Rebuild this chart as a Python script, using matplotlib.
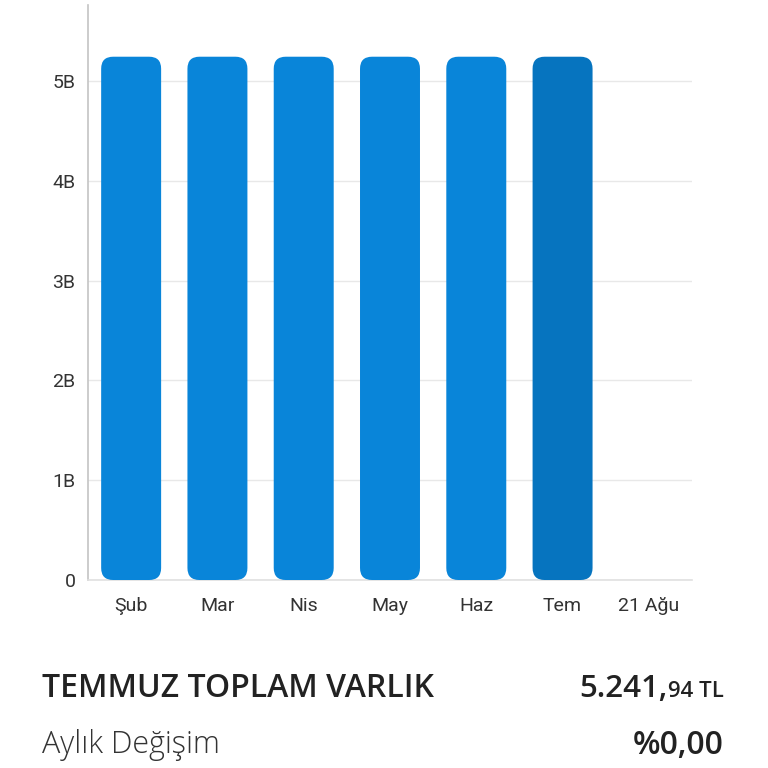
import matplotlib
matplotlib.use("Agg")
import matplotlib.pyplot as plt
from matplotlib.patches import FancyBboxPatch
import numpy as np

categories = ["Şub", "Mar", "Nis", "May", "Haz", "Tem", "21 Ağu"]
values = [5241.94, 5241.94, 5241.94, 5241.94, 5241.94, 5241.94, 0]
colors = ["#0985d9", "#0985d9", "#0985d9", "#0985d9", "#0985d9", "#0674bf", "#0985d9"]
yticks = [0, 1000, 2000, 3000, 4000, 5000]
yticklabels = ["0", "1B", "2B", "3B", "4B", "5B"]

title_left = "TEMMUZ TOPLAM VARLIK"
total_main = "5.241,"
total_dec = "94 TL"
change_label = "Aylık Değişim"
change_value = "%0,00"

W = H = 768
fig = plt.figure(figsize=(7.68, 7.68), dpi=100)
ax = fig.add_axes([88 / W, 1 - 580 / H, (692 - 88) / W, (580 - 5) / H])

ymax = 5760
ax.set_xlim(-0.5, len(categories) - 0.5)
ax.set_ylim(0, ymax)

x = np.arange(len(categories))
bw = 0.695
px_per_x = (692 - 88) / len(categories)
px_per_y = (580 - 5) / ymax
r_px = 12
rx = r_px / px_per_x
aspect = (r_px / px_per_y) / rx

for xi, v, c in zip(x, values, colors):
    if v <= 0:
        continue
    p = FancyBboxPatch((xi - bw / 2, 0), bw, v,
                       boxstyle=f"round,pad=0,rounding_size={rx}",
                       mutation_aspect=aspect, facecolor=c, edgecolor="none", zorder=3)
    ax.add_patch(p)

ax.set_yticks(yticks)
ax.set_yticklabels(yticklabels)
ax.set_xticks(x)
ax.set_xticklabels(categories)
ax.grid(axis="y", color="#e8e8e8", linewidth=1, zorder=0)
ax.tick_params(axis="both", length=0, labelsize=14, colors="#333333", labelfontfamily="Roboto")
ax.tick_params(axis="y", pad=9)
ax.tick_params(axis="x", pad=12)
for s in ["top", "right"]:
    ax.spines[s].set_visible(False)
ax.spines["left"].set_color("#c4c4c4")
ax.spines["left"].set_linewidth(1.2)
ax.spines["bottom"].set_color("#e0e0e0")
ax.spines["bottom"].set_linewidth(1.2)

txtcol = "#222222"
fig.text(42 / W, 1 - 697 / H, title_left, fontsize=23, fontfamily="Open Sans",
         fontweight="semibold", color=txtcol, va="baseline", ha="left")
fig.text(42 / W, 1 - 745 / H, change_label, fontsize=22, fontfamily="Open Sans",
         fontweight="light", color="#333333", va="center", ha="left")
fig.canvas.draw()
r = fig.canvas.get_renderer()
t2 = fig.text(724 / W, 1 - 697 / H, total_dec, fontsize=16, fontfamily="Open Sans",
              fontweight="semibold", color=txtcol, va="baseline", ha="right")
bb = t2.get_window_extent(r)
fig.text((bb.x0 - 1) / W, 1 - 697 / H, total_main, fontsize=22.5, fontfamily="Open Sans",
         fontweight="semibold", color=txtcol, va="baseline", ha="right")
fig.text(724 / W, 1 - 745 / H, change_value, fontsize=23, fontfamily="Open Sans",
         fontweight="semibold", color=txtcol, va="center", ha="right")

fig.savefig("out.png", dpi=100, facecolor="white")
